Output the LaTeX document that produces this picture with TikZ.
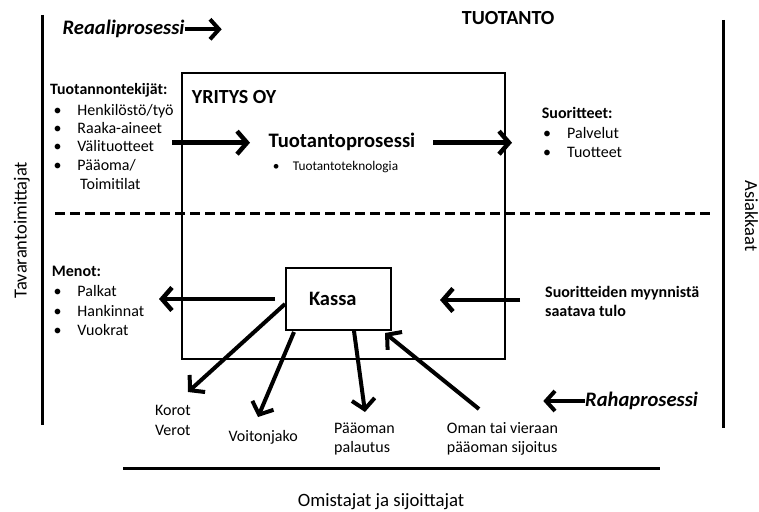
\documentclass[tikz,border=0pt]{standalone}
\usepackage{fontspec}
\setmainfont{Carlito}
\usetikzlibrary{arrows.meta}

\begin{document}
\begin{tikzpicture}[x=1pt, y=-1pt,
  txt/.style={anchor=base west, inner sep=0pt, font=\fontsize{16}{19}\selectfont},
  txtb/.style={txt, font=\fontsize{16}{19}\selectfont\bfseries},
  small/.style={txt, font=\fontsize{13.3}{16}\selectfont},
  big/.style={anchor=base west, inner sep=0pt, font=\fontsize{20}{24}\selectfont\bfseries},
  procname/.style={big, font=\fontsize{20.6}{24}\selectfont\bfseries\itshape},
  side/.style={anchor=base, inner sep=0pt, font=\fontsize{18.5}{22}\selectfont},
  border/.style={line width=2.7pt},
  boxline/.style={draw, line width=2pt},
  flow/.style={line width=4.5pt, -{Straight Barb[length=10pt, width=23pt]}},
  process/.style={line width=4pt, -{Straight Barb[length=9pt, width=20pt]}},
]
\useasboundingbox (0,0) rectangle (759,511);

% side boundaries
\coordinate (lt) at (42.7,15);   \coordinate (lb) at (42.7,425);
\coordinate (rt) at (723.3,20);  \coordinate (rb) at (723.3,428);
\coordinate (bl) at (123.3,468.3); \coordinate (br) at (660,468.3);
\coordinate (dl) at (55,213.3);  \coordinate (dr) at (713,213.3);
\draw[border] (lt) -- (lb);
\draw[border] (rt) -- (rb);
\draw[border] (bl) -- (br);
\draw[line width=3.2pt, dash pattern=on 10pt off 5pt] (dl) -- (dr);

\node[side, rotate=90]  (supp) at (26.7,230) {Tavarantoimittajat};
\node[side, rotate=-90] (cust) at (745,216)  {Asiakkaat};
\node[side, font=\fontsize{18.8}{22}\selectfont] (own) at (381,506) {Omistajat ja sijoittajat};

% company and cash boxes
\node[boxline, minimum width=323, minimum height=286, inner sep=0pt] (firm) at (343.5,216) {};
\node[boxline, fill=white, minimum width=105, minimum height=62, inner ysep=0pt,
      inner xsep=23pt, text width=59pt, align=left,
      font=\fontsize{20.5}{24}\selectfont\bfseries] (kassa) at (338.5,299) {Kassa};

\node[big] (yritys) at (191.7,103.3) {YRITYS OY};
\node[big] (tuot) at (461.7,25) {TUOTANTO};
\node[big, font=\fontsize{20.6}{24}\selectfont\bfseries] (tprosessi) at (268.5,147.7) {Tuotantoprosessi};
\node[small] (tek) at (272.7,170) {\makebox[20pt][l]{\textbullet}Tuotantoteknologia};

% process labels
\node[procname] (reaali) at (62.5,35) {Reaaliprosessi};
\node[procname] (raha) at (585,406.7) {Rahaprosessi};
\coordinate (reaaliEnd) at (221.7,29.3);
\coordinate (rahaEnd) at (543.3,401);
\draw[process] (reaali.east |- reaaliEnd) -- (reaaliEnd);
\draw[process] (raha.west |- rahaEnd) -- (rahaEnd);

% production factors
\node[txtb, font=\fontsize{15.8}{19}\selectfont\bfseries] (tekijat) at (50,94.3) {Tuotannontekijät:};
\node[txt] (t1) at (53.3,115)   {\makebox[24pt][l]{\textbullet}Henkilöstö/työ};
\node[txt] (t2) at (53.3,133.3) {\makebox[24pt][l]{\textbullet}Raaka-aineet};
\node[txt] (t3) at (53.3,151.7) {\makebox[24pt][l]{\textbullet}Välituotteet};
\node[txt] (t4) at (53.3,170)   {\makebox[24pt][l]{\textbullet}Pääoma/};
\node[txt] (t5) at (80,189)     {Toimitilat};

% outputs
\node[txtb] (suor) at (541.7,118.3) {Suoritteet:};
\node[txt] (s1) at (543,138.3) {\makebox[24pt][l]{\textbullet}Palvelut};
\node[txt] (s2) at (543,157.3) {\makebox[24pt][l]{\textbullet}Tuotteet};

% expenses
\node[txtb] (menot) at (51.7,276.7) {Menot:};
\node[txt] (m1) at (53.3,296) {\makebox[24pt][l]{\textbullet}Palkat};
\node[txt] (m2) at (53.3,316) {\makebox[24pt][l]{\textbullet}Hankinnat};
\node[txt] (m3) at (53.3,335) {\makebox[24pt][l]{\textbullet}Vuokrat};

% sales income
\node[txtb] (myynti1) at (545,297.3) {Suoritteiden myynnistä};
\node[txtb] (myynti2) at (545,316.7) {saatava tulo};

% owners and financiers
\node[txt] (korot) at (155,415)     {Korot};
\node[txt] (verot) at (155,435)     {Verot};
\node[txt] (voitto) at (228.3,441.7) {Voitonjako};
\node[txt] (pal1) at (334,433.3)    {Pääoman};
\node[txt] (pal2) at (334,452)      {palautus};
\node[txt] (sij1) at (446.7,433.3)  {Oman tai vieraan};
\node[txt] (sij2) at (446.7,452.7)  {pääoman sijoitus};

% real flow arrows
\coordinate (inS)  at (172,142.7);  \coordinate (inE)  at (250,142.7);
\coordinate (outS) at (433,142.7);  \coordinate (outE) at (512,142.7);
\draw[flow] (inS) -- (inE);
\draw[flow] (outS) -- (outE);

% money flow arrows
\coordinate (menE) at (159,299);
\coordinate (tuloS) at (520,300);   \coordinate (tuloE) at (440,300);
\coordinate (korS) at (285,304);    \coordinate (korE) at (188,392);
\coordinate (voiS) at (294,332);    \coordinate (voiE) at (258,417);
\coordinate (palS) at (354,331);    \coordinate (palE) at (365,412);
\coordinate (sijS) at (479,409);    \coordinate (sijE) at (385,333);
\draw[flow] (kassa.west |- menE) ++(-10,0) -- (menE);
\draw[flow] (tuloS) -- (tuloE);
\draw[flow, line width=4pt] (korS) -- (korE);
\draw[flow, line width=4pt] (voiS) -- (voiE);
\draw[flow, line width=4pt] (palS) -- (palE);
\draw[flow, line width=4pt] (sijS) -- (sijE);
\end{tikzpicture}
\end{document}
